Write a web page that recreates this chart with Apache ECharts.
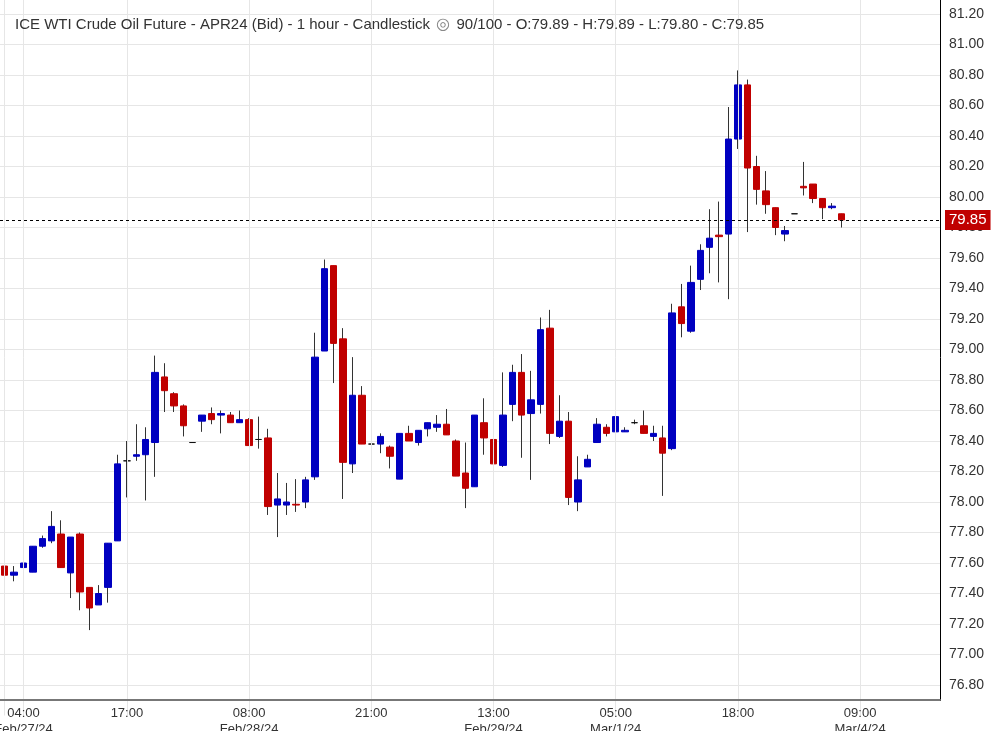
<!DOCTYPE html>
<html lang="en">
<head>
    <meta charset="UTF-8">
    <title>ICE WTI Crude Oil Future</title>
    <script src="https://cdn.jsdelivr.net/npm/echarts@6/dist/echarts.min.js"></script>
    <style>html,body{margin:0;padding:0;background:#fff;}</style>
</head>
<body>
<div id="main" style="width: 991px;height:731px;"></div>

<script type="text/javascript">
    // 1 hour bars, 90 of 100 slots used
    var opens  = [77.58,77.52,77.57,77.54,77.71,77.745,77.79,77.535,77.79,77.44,
                  77.325,77.44,77.745,78.27,78.30,78.31,78.39,78.82,78.71,78.63,
                  78.39,78.53,78.58,78.57,78.57,78.52,78.54,78.41,78.42,77.98,
                  77.98,77.985,78.00,78.165,78.99,79.55,79.07,78.25,78.70,78.38,
                  78.38,78.36,78.15,78.45,78.39,78.48,78.49,78.51,78.40,78.19,
                  78.10,78.52,78.41,78.24,78.64,78.85,78.58,78.64,79.14,78.43,
                  78.53,78.00,78.23,78.39,78.49,78.46,78.46,78.52,78.50,78.43,
                  78.42,78.35,79.28,79.12,79.46,79.67,79.75,79.757,80.38,80.735,
                  80.20,80.04,79.93,79.757,79.89,80.07,80.085,79.99,79.93,79.89];
    var closes = [77.52,77.54,77.60,77.71,77.76,77.84,77.57,77.77,77.41,77.305,
                  77.40,77.73,78.25,78.27,78.31,78.41,78.85,78.73,78.63,78.50,
                  78.39,78.57,78.54,78.58,78.52,78.54,78.37,78.41,77.97,78.02,
                  78.00,77.98,78.145,78.95,79.53,79.04,78.26,78.70,78.38,78.38,
                  78.43,78.30,78.45,78.40,78.47,78.52,78.51,78.44,78.17,78.09,
                  78.57,78.42,78.25,78.57,78.85,78.57,78.67,79.13,78.45,78.53,
                  78.03,78.145,78.28,78.51,78.45,78.56,78.47,78.52,78.45,78.45,
                  78.32,79.24,79.17,79.44,79.65,79.73,79.74,80.38,80.735,80.19,
                  80.05,79.95,79.80,79.78,79.89,80.06,79.99,79.93,79.94,79.85];
    var lows   = [77.49,77.48,77.57,77.54,77.70,77.73,77.57,77.37,77.29,77.16,
                  77.34,77.34,77.745,78.03,78.27,78.01,78.165,78.59,78.59,78.43,
                  78.39,78.46,78.51,78.45,78.52,78.52,78.37,78.35,77.915,77.77,
                  77.915,77.935,77.96,78.145,78.99,78.78,78.02,78.19,78.38,78.26,
                  78.32,78.22,78.15,78.40,78.37,78.43,78.46,78.44,78.17,77.96,
                  78.10,78.31,78.145,78.23,78.53,78.29,78.145,78.58,78.38,78.42,
                  77.98,77.94,78.23,78.39,78.43,78.46,78.46,78.51,78.45,78.40,
                  78.04,78.34,79.08,79.11,79.39,79.50,79.44,79.33,80.315,79.77,
                  79.95,79.89,79.75,79.71,79.89,80.01,79.96,79.855,79.92,79.80];
    var highs  = [77.58,77.58,77.60,77.71,77.78,77.94,77.88,77.77,77.80,77.44,
                  77.455,77.73,78.31,78.40,78.51,78.49,78.96,78.91,78.72,78.64,
                  78.39,78.57,78.62,78.60,78.59,78.60,78.55,78.56,78.48,78.19,
                  78.125,78.15,78.165,79.11,79.59,79.55,79.14,78.95,78.76,78.61,
                  78.45,78.37,78.45,78.50,78.47,78.52,78.57,78.61,78.41,78.39,
                  78.57,78.68,78.47,78.85,78.90,78.97,78.86,79.21,79.26,78.70,
                  78.59,78.30,78.31,78.55,78.51,78.56,78.49,78.54,78.60,78.50,
                  78.50,79.30,79.43,79.55,79.69,79.92,79.97,80.59,80.83,80.77,
                  80.27,80.17,79.93,79.81,79.89,80.23,80.085,79.99,79.96,79.89];

    var slotCount = 100;
    var tickIndex = [2, 13, 26, 39, 52, 65, 78, 91];
    var tickText  = ['04:00\nFeb/27/24', '17:00', '08:00\nFeb/28/24', '21:00',
                     '13:00\nFeb/29/24', '05:00\nMar/1/24', '18:00', '09:00\nMar/4/24'];
    var lastPrice = 79.85;

    var blue = '#0000c0', red = '#c00000';

    var xLabels = [];
    for (var i = 0; i < slotCount; i++) xLabels.push('');
    tickIndex.forEach(function (k, j) { xLabels[k] = tickText[j]; });

    var wicks = [], bodies = [];
    for (var i = 0; i < opens.length; i++) {
        wicks.push([opens[i], closes[i], lows[i], highs[i]]);
        bodies.push([opens[i], closes[i], Math.min(opens[i], closes[i]), Math.max(opens[i], closes[i])]);
    }

    var vLines = [{xAxis: 0}].concat(tickIndex.map(function (k) { return {xAxis: k}; }));

    var myChart = echarts.init(document.getElementById('main'));
    var option = {
        animation: false,
        backgroundColor: '#fff',
        textStyle: {fontFamily: 'Liberation Sans, Arial, sans-serif'},
        title: {
            text: 'ICE WTI Crude Oil Future - APR24 (Bid) - 1 hour - Candlestick {eye|◎} 90/100 - O:79.89 - H:79.89 - L:79.80 - C:79.85',
            left: 10, top: 12,
            textStyle: {fontSize: 15, fontWeight: 'normal', color: '#333',
                rich: {eye: {fontSize: 16, color: '#888', padding: [0, 2, 0, 2]}}}
        },
        grid: {left: 0, top: -16.5, width: 940, height: 732, containLabel: false, outerBoundsMode: 'none'},
        xAxis: {
            type: 'category',
            data: xLabels,
            offset: -15.5,
            z: 5,
            axisLine: {lineStyle: {color: '#777', width: 2}},
            axisTick: {show: false},
            splitLine: {show: false},
            axisLabel: {interval: 0, color: '#333', fontSize: 13, margin: 5, lineHeight: 16}
        },
        yAxis: {
            type: 'value',
            position: 'right',
            min: 76.6, max: 81.4, interval: 0.2,
            axisLine: {show: true, lineStyle: {color: '#000'}},
            axisTick: {show: false},
            axisLabel: {color: '#333', fontSize: 14, margin: 9,
                formatter: function (v) { return v.toFixed(2); }},
            splitLine: {lineStyle: {color: '#e6e6e6'}}
        },
        graphic: [{
            type: 'rect', z: 1,
            shape: {x: 0, y: 701, width: 991, height: 30},
            style: {fill: '#fff'}
        }],
        series: [
            {
                type: 'line', data: [], z: 1, silent: true,
                markLine: {silent: true, symbol: 'none', label: {show: false},
                    lineStyle: {color: '#e6e6e6', type: 'solid', width: 1}, data: vLines}
            },
            {
                type: 'candlestick', data: wicks, barWidth: 1, z: 2, silent: true,
                itemStyle: {color: '#333', color0: '#333', borderColor: '#333', borderColor0: '#333', borderWidth: 1}
            },
            {
                type: 'candlestick', data: bodies, barWidth: 7, z: 3, silent: true,
                itemStyle: {color: blue, color0: red, borderColor: blue, borderColor0: red,
                    borderColorDoji: '#111', borderWidth: 1},
                markLine: {
                    silent: true, symbol: 'none',
                    lineStyle: {color: '#000', type: [3, 3], width: 1},
                    label: {position: 'end', formatter: lastPrice.toFixed(2), color: '#fff',
                        backgroundColor: red, fontSize: 15, padding: [3, 4, 2, 4], distance: 5},
                    data: [{yAxis: lastPrice}]
                }
            }
        ]
    };
    myChart.setOption(option);
</script>
</body>
</html>
